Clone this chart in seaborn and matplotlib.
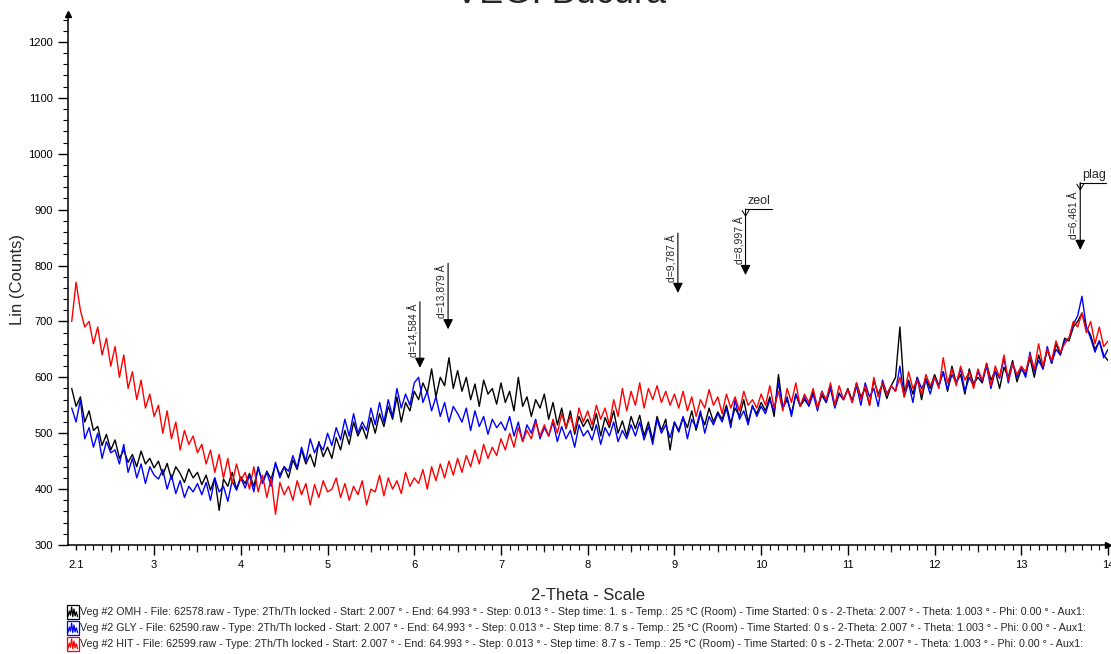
import numpy as np
import pandas as pd
import matplotlib
matplotlib.use("Agg")
import matplotlib.pyplot as plt
import seaborn as sns
from matplotlib.ticker import MultipleLocator, FixedLocator
from matplotlib.legend_handler import HandlerBase
from matplotlib.patches import Rectangle
from matplotlib.lines import Line2D

# ---------------- data ----------------
scan_start = 2.05      # 2-theta of the first sample
scan_step = 0.05       # sampling step of the values below

omh = [580, 548, 565, 520, 540, 505, 512, 478, 498, 470,
       488, 455, 470, 448, 462, 440, 468, 445, 455, 438,
       450, 425, 446, 418, 440, 428, 412, 436, 420, 430,
       408, 425, 398, 420, 362, 418, 405, 430, 400, 422,
       410, 428, 405, 438, 412, 432, 418, 445, 425, 440,
       420, 452, 435, 470, 445, 462, 440, 485, 458, 475,
       455, 492, 470, 505, 480, 520, 495, 512, 490, 528,
       500, 535, 512, 548, 525, 565, 520, 555, 540, 575,
       560, 590, 572, 615, 565, 600, 585, 635, 580, 612,
       575, 600, 560, 588, 548, 595, 570, 580, 552, 590,
       555, 575, 540, 600, 548, 565, 530, 560, 545, 570,
       525, 555, 515, 545, 508, 540, 498, 530, 512, 525,
       505, 535, 495, 528, 510, 540, 500, 522, 495, 530,
       508, 532, 495, 520, 488, 530, 505, 525, 470, 520,
       502, 528, 510, 540, 505, 535, 515, 545, 520, 538,
       525, 550, 518, 545, 530, 560, 520, 548, 535, 555,
       540, 565, 530, 605, 545, 560, 535, 570, 548, 560,
       550, 575, 545, 568, 555, 585, 548, 572, 560, 580,
       558, 590, 565, 580, 550, 595, 570, 588, 562, 585,
       600, 690, 575, 595, 570, 600, 560, 598, 580, 605,
       585, 610, 575, 620, 590, 605, 570, 615, 588, 600,
       590, 625, 595, 612, 580, 618, 600, 630, 592, 615,
       605, 635, 600, 640, 615, 650, 625, 660, 640, 670,
       665, 690, 700, 715, 690, 675, 650, 665, 640, 630]

gly = [545, 520, 560, 490, 510, 475, 500, 455, 485, 465,
       470, 445, 480, 430, 455, 420, 445, 410, 440, 425,
       418, 435, 400, 425, 392, 415, 385, 405, 395, 410,
       390, 412, 380, 420, 395, 405, 378, 415, 398, 420,
       402, 425, 395, 440, 410, 430, 405, 448, 420, 440,
       432, 460, 438, 475, 450, 490, 465, 482, 470, 500,
       478, 510, 488, 525, 495, 535, 500, 520, 505, 545,
       515, 555, 520, 560, 530, 580, 545, 570, 550, 590,
       600, 555, 575, 540, 565, 530, 555, 520, 548, 535,
       520, 545, 505, 540, 512, 530, 498, 525, 510, 520,
       505, 530, 495, 520, 485, 515, 500, 525, 490, 510,
       495, 520, 485, 512, 490, 505, 475, 515, 495, 505,
       488, 515, 480, 510, 495, 520, 485, 505, 490, 515,
       495, 520, 488, 512, 480, 525, 500, 515, 492, 520,
       505, 530, 490, 525, 510, 540, 500, 530, 515, 535,
       520, 545, 510, 560, 525, 540, 515, 550, 530, 548,
       535, 560, 540, 590, 545, 565, 530, 570, 550, 565,
       548, 570, 540, 575, 555, 580, 545, 570, 560, 578,
       555, 585, 550, 590, 565, 580, 548, 595, 570, 585,
       575, 620, 565, 590, 555, 600, 580, 595, 570, 600,
       585, 610, 578, 605, 590, 615, 575, 600, 585, 610,
       592, 620, 580, 612, 598, 635, 590, 625, 600, 618,
       600, 645, 610, 630, 615, 655, 625, 650, 640, 665,
       670, 695, 710, 745, 690, 670, 645, 665, 635, 650]

hit = [700, 770, 720, 690, 700, 660, 690, 640, 670, 620,
       655, 600, 640, 580, 610, 560, 595, 545, 570, 530,
       550, 500, 540, 490, 520, 470, 505, 480, 495, 465,
       480, 445, 470, 430, 462, 420, 455, 410, 445, 415,
       430, 400, 440, 395, 425, 385, 420, 355, 412, 390,
       405, 380, 415, 390, 410, 372, 408, 385, 415, 395,
       400, 420, 385, 410, 380, 405, 390, 415, 372, 400,
       395, 425, 388, 420, 400, 415, 392, 430, 405, 420,
       410, 435, 400, 440, 415, 445, 420, 450, 425, 455,
       430, 460, 440, 470, 445, 480, 455, 475, 460, 490,
       470, 500, 475, 510, 485, 505, 490, 520, 495, 515,
       495, 525, 500, 535, 510, 530, 505, 545, 520, 540,
       515, 550, 525, 545, 515, 560, 530, 580, 540, 575,
       550, 590, 545, 580, 560, 585, 555, 575, 550, 570,
       545, 575, 540, 565, 530, 560, 545, 578, 550, 565,
       535, 570, 545, 565, 540, 575, 550, 560, 545, 570,
       550, 585, 545, 575, 540, 580, 555, 590, 548, 570,
       555, 580, 545, 575, 560, 590, 550, 585, 560, 578,
       555, 590, 560, 585, 550, 600, 565, 590, 570, 585,
       575, 600, 565, 610, 580, 595, 570, 605, 585, 600,
       580, 635, 590, 615, 585, 620, 595, 610, 580, 615,
       595, 625, 585, 620, 600, 640, 595, 625, 605, 620,
       610, 640, 615, 660, 620, 650, 630, 665, 645, 660,
       670, 700, 690, 715, 680, 700, 660, 690, 655, 665]

series_names = ["OMH", "GLY", "HIT"]
series_colors = ["#000000", "#0000ff", "#ff0000"]
legend_labels = [
    "Veg #2 OMH - File: 62578.raw - Type: 2Th/Th locked - Start: 2.007 \u00b0 - End: 64.993 \u00b0 - Step: 0.013 \u00b0 - Step time: 1. s - Temp.: 25 \u00b0C (Room) - Time Started: 0 s - 2-Theta: 2.007 \u00b0 - Theta: 1.003 \u00b0 - Phi: 0.00 \u00b0 - Aux1:",
    "Veg #2 GLY - File: 62590.raw - Type: 2Th/Th locked - Start: 2.007 \u00b0 - End: 64.993 \u00b0 - Step: 0.013 \u00b0 - Step time: 8.7 s - Temp.: 25 \u00b0C (Room) - Time Started: 0 s - 2-Theta: 2.007 \u00b0 - Theta: 1.003 \u00b0 - Phi: 0.00 \u00b0 - Aux1:",
    "Veg #2 HIT - File: 62599.raw - Type: 2Th/Th locked - Start: 2.007 \u00b0 - End: 64.993 \u00b0 - Step: 0.013 \u00b0 - Step time: 8.7 s - Temp.: 25 \u00b0C (Room) - Time Started: 0 s - 2-Theta: 2.007 \u00b0 - Theta: 1.003 \u00b0 - Phi: 0.00 \u00b0 - Aux1:",
]

x_tick_values = [2.1, 3, 4, 5, 6, 7, 8, 9, 10, 11, 12, 13, 14]
x_tick_labels = ["2.1", "3", "4", "5", "6", "7", "8", "9", "10", "11", "12", "13", "14"]
y_tick_values = [300, 400, 500, 600, 700, 800, 900, 1000, 1100, 1200]

peak_two_theta = [6.065, 6.39, 9.04, 9.82, 13.68]
peak_labels = ["d=14,584 \u00c5", "d=13,879 \u00c5", "d=9,787 \u00c5", "d=8,997 \u00c5", "d=6,461 \u00c5"]
peak_tip = [617, 686, 751, 783, 828]
peak_top = [735, 804, 858, 901, 948]
phase_names = ["", "", "", "zeol", "plag"]

# ---------------- build table ----------------
n = len(omh)
two_theta = np.round(scan_start + scan_step * np.arange(n), 3)
frames = []
for name, vals in zip(series_names, [omh, gly, hit]):
    frames.append(pd.DataFrame({"2theta": two_theta, "counts": vals, "sample": name}))
df = pd.concat(frames, ignore_index=True)

# ---------------- plot ----------------
sns.set_style("white")
plt.rcParams["font.family"] = ["Liberation Sans", "DejaVu Sans"]

fig = plt.figure(figsize=(11.11, 6.54), dpi=100)
ax = fig.add_axes([68 / 1111, 1 - 545 / 654, (1108 - 68) / 1111, (545 - 14) / 654])

sns.lineplot(data=df, x="2theta", y="counts", hue="sample",
             palette=dict(zip(series_names, series_colors)),
             hue_order=series_names, estimator=None, sort=False,
             linewidth=1.0, legend=False, ax=ax)

ax.set_xlim(2.007, 13.98)
ax.set_ylim(300, 1250)

for s in ["top", "right"]:
    ax.spines[s].set_visible(False)
for s in ["left", "bottom"]:
    ax.spines[s].set_linewidth(1.1)
    ax.spines[s].set_color("black")

# axis arrows
ax.plot(0, 1, marker="^", color="black", markersize=5, transform=ax.transAxes, clip_on=False)
ax.plot(1, 0, marker=">", color="black", markersize=5, transform=ax.transAxes, clip_on=False)

# ticks
ax.set_yticks(y_tick_values)
ax.yaxis.set_minor_locator(MultipleLocator(20))
ax.set_xticks(x_tick_values)
ax.set_xticklabels(x_tick_labels)
ax.xaxis.set_minor_locator(MultipleLocator(0.1))
ax.tick_params(axis="both", which="major", direction="out", length=7, width=1,
               labelsize=8, colors="black", pad=4, bottom=True, left=True)
ax.tick_params(axis="both", which="minor", direction="out", length=3.5, width=0.8,
               colors="black", bottom=True, left=True)
ax.xaxis.get_major_ticks()[0].tick1line.set_markersize(3.5)

# medium ticks at half-units
sec = ax.secondary_xaxis("bottom")
sec.spines["bottom"].set_visible(False)
sec.set_xticks([v + 0.5 for v in range(2, 14)])
sec.tick_params(axis="x", direction="out", length=5, width=0.9, labelbottom=False)
sec.xaxis.set_minor_locator(FixedLocator([]))

ax.set_xlabel("2-Theta - Scale", fontsize=12, labelpad=13)
ax.set_ylabel("Lin (Counts)", fontsize=12, labelpad=2)

# peak markers
for tt, lab, tip, top, ph in zip(peak_two_theta, peak_labels, peak_tip, peak_top, phase_names):
    ax.annotate("", xy=(tt, tip), xytext=(tt, top),
                arrowprops=dict(arrowstyle="-|>,head_length=0.6,head_width=0.3",
                                color="black", lw=0.8, shrinkA=0, shrinkB=0))
    ax.annotate(lab, xy=(tt, tip), xytext=(-6, 11), textcoords="offset pixels",
                rotation=90, ha="center", va="bottom", fontsize=7.5)
    if ph:
        ax.plot([tt, tt + 0.3], [top, top], color="black", lw=0.8, clip_on=False)
        ax.annotate("", xy=(tt, top - 14), xytext=(tt, top),
                    arrowprops=dict(arrowstyle="->,head_length=0.4,head_width=0.25",
                                    color="black", lw=0.7, shrinkA=0, shrinkB=0))
        ax.text(tt + 0.02, top + 3, ph, fontsize=9, ha="left", va="bottom")

# title (partly outside the canvas as in the reference)
fig.text(0.505, 1 - 3 / 654, "VEG: Bucura", fontsize=26, ha="center", va="baseline")


# legend with small boxed-pattern icons
class BoxPattern(HandlerBase):
    def create_artists(self, legend, orig_handle, xdescent, ydescent, width, height, fontsize, trans):
        c = orig_handle.get_color()
        x0, y0 = -xdescent, -ydescent - 1.5
        h = height + 3
        rect = Rectangle((x0, y0), width, h, fill=False, ec=c, lw=0.9, transform=trans)
        fx = np.array([0.08, 0.2, 0.3, 0.4, 0.5, 0.6, 0.7, 0.8, 0.92])
        fy = np.array([0.15, 0.55, 0.25, 0.85, 0.15, 0.7, 0.2, 0.5, 0.15])
        zig = Line2D(x0 + fx * width, y0 + fy * h, color=c, lw=0.9, transform=trans)
        return [rect, zig]


handles = [Line2D([], [], color=c) for c in series_colors]
fig.legend(handles, legend_labels, loc="upper left",
           bbox_to_anchor=(67 / 1111, 1 - 607 / 654), frameon=False, fontsize=7.7,
           handlelength=1.08, handleheight=1.0, handletextpad=0.15, labelspacing=0.52,
           borderpad=0, borderaxespad=0,
           handler_map={Line2D: BoxPattern()})

fig.savefig("out.png", dpi=100)
